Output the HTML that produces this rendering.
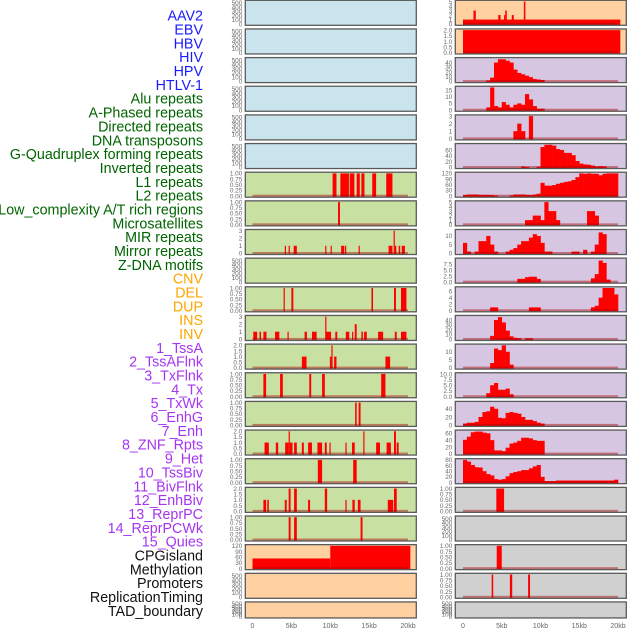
<!DOCTYPE html>
<html><head><meta charset="utf-8">
<style>
html,body{margin:0;padding:0;background:#fff;}
svg{display:block;font-family:"Liberation Sans",sans-serif;}
</style></head>
<body>
<svg id="chart" width="630" height="630" viewBox="0 0 630 630" xmlns="http://www.w3.org/2000/svg"></svg>
<script>
// ---- track labels ----
const labelNames = ["AAV2","EBV","HBV","HIV","HPV","HTLV-1","Alu repeats","A-Phased repeats","Directed repeats","DNA transposons","G-Quadruplex forming repeats","Inverted repeats","L1 repeats","L2 repeats","Low_complexity A/T rich regions","Microsatellites","MIR repeats","Mirror repeats","Z-DNA motifs","CNV","DEL","DUP","INS","INV","1_TssA","2_TssAFlnk","3_TxFlnk","4_Tx","5_TxWk","6_EnhG","7_Enh","8_ZNF_Rpts","9_Het","10_TssBiv","11_BivFlnk","12_EnhBiv","13_ReprPC","14_ReprPCWk","15_Quies","CPGisland","Methylation","Promoters","ReplicationTiming","TAD_boundary"];
const labelGroups = ["b","b","b","b","b","b","g","g","g","g","g","g","g","g","g","g","g","g","g","o","o","o","o","o","p","p","p","p","p","p","p","p","p","p","p","p","p","p","p","k","k","k","k","k"];
const xTickLabels = ["0","5kb","10kb","15kb","20kb"];
const xTickKb = [0,5,10,15,20];

// ---- left column segments [startKb, endKb, value] ----
const segL7 = [[10.3,10.8,1],[11.3,12.4,1],[12.5,13.1,1],[13.4,13.8,1],[14.0,14.4,1],[15.4,15.9,1],[17.2,18.0,1]];
const segL8 = [[11.0,11.25,1]];
const segL9 = [[4.15,4.3,1],[4.65,4.8,1],[5.3,5.7,1],[9.35,9.5,1],[10.05,10.2,1],[11.4,11.8,1],[11.9,12.0,1],[13.65,13.8,1],[17.5,18.0,1],[18.15,18.3,3],[18.3,18.5,1],[18.8,19.0,1],[19.2,19.6,1]];
const segL11 = [[4.0,4.15,1],[5.0,5.25,1],[15.3,15.5,1],[18.2,18.45,1],[19.1,19.8,1]];
const segL12 = [[0.1,0.6,1],[0.9,1.1,1],[1.4,1.8,1],[2.9,3.45,1],[4.5,4.65,1],[6.7,7.0,1],[7.65,8.25,1],[9.35,9.45,3],[9.45,10.1,1],[10.65,10.9,1],[12.0,12.45,1],[12.8,12.95,1],[13.15,13.4,2],[14.0,14.2,1],[14.35,14.7,1],[16.15,16.8,1],[18.3,18.55,1],[19.1,19.8,1]];
const segL13 = [[6.35,6.95,1],[9.95,10.15,1],[10.15,10.3,2],[10.5,10.8,1],[17.1,17.7,1]];
const segL14 = [[1.4,1.75,1],[3.55,3.9,1],[7.3,7.55,1],[8.95,9.3,1],[16.55,17.1,1]];
const segL15 = [[13.2,13.4,1],[13.65,13.9,1]];
const segL16 = [[1.55,2.1,1],[3.0,3.3,1],[4.2,4.65,1],[4.65,4.8,2],[4.8,5.15,1],[5.35,5.7,1],[6.35,6.6,1],[7.15,7.65,1],[8.35,8.95,1],[9.3,9.55,1],[9.9,10.05,1],[11.95,12.1,1],[12.8,13.15,1],[14.25,14.4,2],[15.9,16.4,1],[17.25,17.8,1],[18.2,18.45,2],[18.55,18.8,1]];
const segL17 = [[8.4,8.95,1],[12.95,13.4,1]];
const segL18 = [[1.4,1.75,1],[1.9,2.1,1],[4.15,4.4,1],[4.65,4.9,2],[5.35,5.7,2],[7.15,7.4,1],[9.3,9.6,2],[11.95,12.1,1],[12.85,13.15,1],[13.55,13.9,1],[17.4,18.1,1],[18.2,18.55,2]];
const segL19 = [[4.65,4.9,1],[5.35,5.7,1],[13.9,14.15,1]];
const segL20 = [[0,10,53],[10,20.3,120]];

// ---- right column ----
const segR1 = [[0,20.3,1],[1.35,1.65,3],[4.55,4.85,2],[5.3,5.45,2],[5.45,5.65,3],[6.3,6.55,2],[7.85,8.05,5]];
const segR2 = [[0,20.3,2]];
const binsR3 = [0,0,0,0,0,0,2,8,40,47,47,44,40,25,18,15,12,9,5,4,3,0,0,0,0,0,0,0,0,0,0,0,0,0,0,0,0,0,0,0];
const binsR4 = [0,0,0,0,0,0,2,17,3,2,6,4,2,4,5,4,12,8,3,1,1,0,0,0,0,0,0,0,0,0,0,0,0,0,0,0,0,0,0,0];
const binsR5 = [0,0,0,0,0,0,0,0,0,0,0,0,0,1,2,1,0,3,0,0,0,0,0,0,0,0,0,0,0,0,0,0,0,0,0,0,0,0,0,0];
const binsR6 = [0,0,0,0,0,0,0,0,0,0,0,0,0,0,0,3,1,0,0,2,70,78,78,75,63,60,50,50,42,22,13,10,9,6,3,4,3,0,0,0];
const binsR7 = [5,8,8,8,6,6,6,5,2,0,0,0,3,8,8,8,6,5,8,12,70,55,55,58,65,70,75,78,85,100,120,118,120,118,118,110,118,120,120,120];
const binsR8 = [0,0,0,0,0,0,0,0,0,0,0,0,0,0,0,0,1,1,2,2,1,5,3,3,1,0,0,0,0,0,0,0,3,3,2,0,0,0,0,0];
const binsR9 = [6,1,0,1,7,7,10,5,1,0,0,1,2,3,5,7,7,9,11,10,6,1,1,0,0,0,0,0,1,1,0,2,0,1,5,12,11,0,0,0];
const binsR10 = [0,0,0,0,0,0,0,0,0,0,0,0,0,0,1.3,1.3,2,2.2,2.2,1.3,0,0,0,0,0,0,0,0,0,0,0,0,0,1.5,3.3,9,8,1,0,0];
const binsR11 = [0,0,0,0,0,0,0,1,1,0,0,0,0,0,0,0,0,1,1,1,0,0,0,0,0,0,0,0,0,0,0,0,0,1,1.5,4,7,7,7,5];
const binsR12 = [0,0,0,0,0,0,0,7,40,46,35,18,6,3,2,0,2,2,0,0,0,0,0,0,0,0,0,0,0,0,0,0,0,0,0,0,0,0,0,0];
const binsR13 = [0,0,0,0,0,0,0,3,12,11,14,10,2,0,0,0,0,0,0,0,0,0,0,0,0,0,0,0,0,0,0,0,0,0,0,0,0,0,0,0];
const binsR14 = [0,0,0,0,0,0,1.5,5,6,3,3,3.5,1,0,0,0,0,0,0,0,0,0,0,0,0,0,0,0,0,0,0,0,0,0,0,0,0,0,0,0];
const binsR15 = [4,6,6,8,20,32,34,45,40,18,17,30,32,30,28,20,13,13,10,6,4,0,0,0,0,0,0,0,0,0,0,0,0,0,0,0,0,0,0,0];
const binsR16 = [41,50,63,65,65,62,60,40,10,10,8,18,30,33,38,47,47,45,40,38,38,0,0,0,0,0,0,0,0,0,0,0,0,0,0,0,0,0,0,0];
const binsR17 = [80,74,62,54,53,40,30,25,12,10,12,22,33,37,40,44,44,50,57,62,20,5,5,5,7,7,7,7,7,7,7,7,7,7,7,7,7,7,7,10];
const segR18 = [[4.3,5.3,1]];
const segR20 = [[4.35,5.0,1]];
const segR21 = [[3.7,3.9,1],[6.05,6.35,1],[8.4,8.65,1]];

// ---- tick label sets ----
const ticksEmpty = [0,100,200,300,400,500];
const ticksFrac = [0,0.25,0.5,0.75,1];
const ticksHalf2 = [0,0.5,1,1.5,2];

const svg = document.getElementById('chart');
const NS = 'http://www.w3.org/2000/svg';
const groupColors = {b:'#1a1aff', g:'#006400', o:'#ffa500', p:'#a535f0', k:'#111111'};
const bgColors = {blue:'#c9e4ec', green:'#c8e0a2', orange:'#ffd0a0', purple:'#d6c6e2', gray:'#d0d0d0'};
const BIN = 0.5;

function mk(tag, attrs, parent){
  const el = document.createElementNS(NS, tag);
  for (const k in attrs) el.setAttribute(k, attrs[k]);
  (parent||svg).appendChild(el);
  return el;
}
function xScale(col, kb){ return col==='L' ? 252.5 + kb*7.775 : 463 + kb*7.75; }
function rowTop(i){ return 0.3 + 28.65*i; }

// labels
const lg = mk('g', {});


labelNames.forEach((name, i) => {
  const t = mk('text', {x:203, y:20.7 + i*13.84, 'text-anchor':'end', 'font-size':'14.3', fill:groupColors[labelGroups[i]]}, lg);
  
  
  t.textContent = name;
});

const panels = [
  {c:'L',r:0,bg:'blue',ym:530,t:ticksEmpty,d:0},
  {c:'L',r:1,bg:'blue',ym:530,t:ticksEmpty,d:0},
  {c:'L',r:2,bg:'blue',ym:530,t:ticksEmpty,d:0},
  {c:'L',r:3,bg:'blue',ym:530,t:ticksEmpty,d:0},
  {c:'L',r:4,bg:'blue',ym:530,t:ticksEmpty,d:0},
  {c:'L',r:5,bg:'blue',ym:530,t:ticksEmpty,d:0},
  {c:'L',r:6,bg:'green',ym:1,t:ticksFrac,d:2,seg:segL7},
  {c:'L',r:7,bg:'green',ym:1,t:ticksFrac,d:2,seg:segL8},
  {c:'L',r:8,bg:'green',ym:3,t:[0,1,2,3],d:0,seg:segL9},
  {c:'L',r:9,bg:'green',ym:530,t:ticksEmpty,d:0},
  {c:'L',r:10,bg:'green',ym:1,t:ticksFrac,d:2,seg:segL11},
  {c:'L',r:11,bg:'green',ym:3,t:[0,1,2,3],d:0,seg:segL12},
  {c:'L',r:12,bg:'green',ym:2,t:ticksHalf2,d:1,seg:segL13},
  {c:'L',r:13,bg:'green',ym:1,t:ticksFrac,d:2,seg:segL14},
  {c:'L',r:14,bg:'green',ym:1,t:ticksFrac,d:2,seg:segL15},
  {c:'L',r:15,bg:'green',ym:2,t:ticksHalf2,d:1,seg:segL16},
  {c:'L',r:16,bg:'green',ym:1,t:ticksFrac,d:2,seg:segL17},
  {c:'L',r:17,bg:'green',ym:2,t:ticksHalf2,d:1,seg:segL18},
  {c:'L',r:18,bg:'green',ym:1,t:ticksFrac,d:2,seg:segL19},
  {c:'L',r:19,bg:'orange',ym:120,t:[0,30,60,90,120],d:0,seg:segL20},
  {c:'L',r:20,bg:'orange',ym:530,t:ticksEmpty,d:0},
  {c:'L',r:21,bg:'orange',ym:530,t:ticksEmpty,d:0},
  {c:'R',r:0,bg:'orange',ym:5,t:[0,1,2,3,4,5],d:0,seg:segR1},
  {c:'R',r:1,bg:'orange',ym:2,t:ticksHalf2,d:1,seg:segR2},
  {c:'R',r:2,bg:'purple',ym:48,t:[0,10,20,30,40],d:0,bins:binsR3},
  {c:'R',r:3,bg:'purple',ym:17,t:[0,5,10,15],d:0,bins:binsR4},
  {c:'R',r:4,bg:'purple',ym:3,t:[0,1,2,3],d:0,bins:binsR5},
  {c:'R',r:5,bg:'purple',ym:78,t:[0,20,40,60],d:0,bins:binsR6},
  {c:'R',r:6,bg:'purple',ym:120,t:[0,30,60,90,120],d:0,bins:binsR7},
  {c:'R',r:7,bg:'purple',ym:5,t:[0,1,2,3,4,5],d:0,bins:binsR8},
  {c:'R',r:8,bg:'purple',ym:13,t:[0,5,10],d:0,bins:binsR9},
  {c:'R',r:9,bg:'purple',ym:9.5,t:[0,2.5,5,7.5],d:1,bins:binsR10},
  {c:'R',r:10,bg:'purple',ym:7,t:[0,2,4,6],d:0,bins:binsR11},
  {c:'R',r:11,bg:'purple',ym:47,t:[0,10,20,30,40],d:0,bins:binsR12},
  {c:'R',r:12,bg:'purple',ym:14,t:[0,5,10],d:0,bins:binsR13},
  {c:'R',r:13,bg:'purple',ym:10,t:[0,2.5,5,7.5,10],d:1,bins:binsR14},
  {c:'R',r:14,bg:'purple',ym:55,t:[0,20,40],d:0,bins:binsR15},
  {c:'R',r:15,bg:'purple',ym:66,t:[0,20,40,60],d:0,bins:binsR16},
  {c:'R',r:16,bg:'purple',ym:80,t:[0,20,40,60,80],d:0,bins:binsR17},
  {c:'R',r:17,bg:'gray',ym:1,t:ticksFrac,d:2,seg:segR18},
  {c:'R',r:18,bg:'gray',ym:530,t:ticksEmpty,d:0},
  {c:'R',r:19,bg:'gray',ym:1,t:ticksFrac,d:2,seg:segR20},
  {c:'R',r:20,bg:'gray',ym:1,t:ticksFrac,d:2,seg:segR21},
  {c:'R',r:21,bg:'gray',ym:530,t:ticksEmpty,d:0}
];

panels.forEach((p, idx) => {
  const left = p.c==='L' ? 245.3 : 455.3;
  const w = 171;
  const top = rowTop(p.r);
  const h = p.r===21 ? 16 : 25;
  const g = mk('g', {});
  
  
  const cid = 'clip' + idx;
  const cp = mk('clipPath', {id:cid}, g);
  mk('rect', {x:left, y:top, width:w, height:h}, cp);
  const bg = mk('rect', {x:left, y:top, width:w, height:h, fill:bgColors[p.bg]}, g);
  
  
  const y0 = top + h - 1.2, y1 = top + 1.2;
  const ys = v => y0 - v / p.ym * (y0 - y1);
  const dg = mk('g', {'clip-path':'url(#' + cid + ')'}, g);
  const hasData = !!(p.bins || p.seg);
  if (p.bins) {
    p.bins.forEach((v, i) => {
      if (v <= 0) return;
      const xa = xScale(p.c, i*BIN), xb = xScale(p.c, (i+1)*BIN);
      const b = mk('rect', {x:xa, y:ys(v), width:xb-xa+0.3, height:y0-ys(v)+1.2, fill:'#ff0000'}, dg);
      
      
    });
  }
  if (p.seg) {
    p.seg.forEach(s => {
      const xa = xScale(p.c, s[0]), xb = xScale(p.c, s[1]);
      const b = mk('rect', {x:xa, y:ys(s[2]), width:Math.max(xb-xa, 1.2), height:y0-ys(s[2])+1.2, fill:'#ff0000'}, dg);
      
      
    });
  }
  if (hasData) {
    const bl = mk('rect', {x:xScale(p.c,0), y:y0-1.3, width:xScale(p.c,20)-xScale(p.c,0), height:2, fill:'rgba(170,0,0,0.45)'}, dg);
    
    
  }
  const br = mk('rect', {x:left, y:top, width:w, height:h, fill:'none', stroke:'#5a5a5a', 'stroke-width':'1.3'}, g);
  
  
  p.t.forEach(tv => {
    const tt = mk('text', {x:left-3, y:ys(tv)+2.3, 'text-anchor':'end', 'font-size':'6.4', fill:'#6a6a6a'}, g);
    
    
    tt.textContent = tv.toFixed(p.d);
  });
});

// x axes
['L','R'].forEach(c => {
  const ax = mk('g', {});
  
  
  xTickKb.forEach((kb, i) => {
    const t = mk('text', {x:xScale(c,kb), y:628, 'text-anchor':'middle', 'font-size':'7', fill:'#666'}, ax);
    
    
    t.textContent = xTickLabels[i];
  });
});
</script>
</body></html>
